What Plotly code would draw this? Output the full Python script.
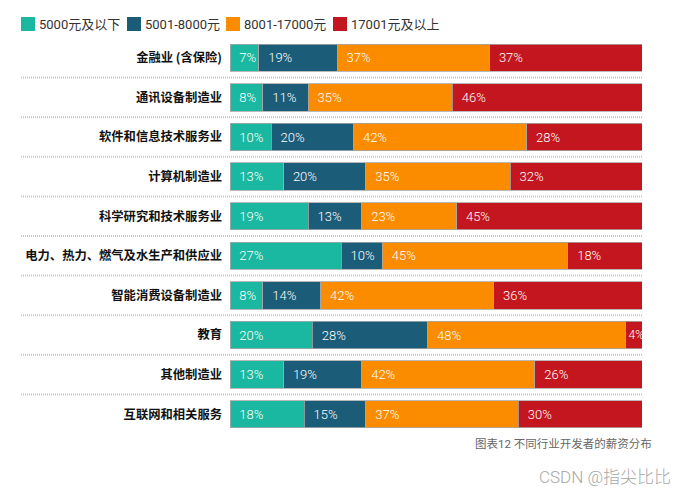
import plotly.graph_objects as go

industries = ["金融业 (含保险)", "通讯设备制造业", "软件和信息技术服务业", "计算机制造业",
              "科学研究和技术服务业", "电力、热力、燃气及水生产和供应业", "智能消费设备制造业",
              "教育", "其他制造业", "互联网和相关服务"]
series_names = ["5000元及以下", "5001-8000元", "8001-17000元", "17001元及以上"]
s1 = [7, 8, 10, 13, 19, 27, 8, 20, 13, 18]
s2 = [19, 11, 20, 20, 13, 10, 14, 28, 19, 15]
s3 = [37, 35, 42, 35, 23, 45, 42, 48, 42, 37]
s4 = [37, 46, 28, 32, 45, 18, 36, 4, 26, 30]
colors = ["#1ab8a0", "#1b5c78", "#fb8c00", "#c4161e"]
caption = "图表12 不同行业开发者的薪资分布"
credit = "CSDN @指尖比比"

W, H = 687, 495
ML, MR, MT, MB = 230, 45, 38, 61
PW, PH = W - ML - MR, H - MT - MB


def px_x(px):
    return (px - ML) / PW


def px_y(py):
    return (H - MB - py) / PH


def label(v):
    return ("\u00a0\u00a0" if v >= 5 else "") + f"{v}%"


fig = go.Figure()
for name, vals, col in zip(series_names, [s1, s2, s3, s4], colors):
    fig.add_trace(go.Bar(
        y=industries, x=vals, name=name, orientation="h",
        marker=dict(color=col, line=dict(color="#a8a8a8", width=0.8)),
        text=[label(v) for v in vals],
        textposition="inside", insidetextanchor="start", textangle=0,
        textfont=dict(color="white", size=[13 if v >= 5 else 12 for v in vals],
                      family="Roboto", weight=300),
        constraintext="none", cliponaxis=False, width=0.69, showlegend=False,
    ))

# dotted separators between rows
for i in range(len(industries) - 1):
    fig.add_shape(type="line", xref="paper", yref="y",
                  x0=px_x(21), x1=1.0, y0=i + 0.5, y1=i + 0.5,
                  line=dict(color="#c8c8c8", width=2, dash="1px,1px"))

# manual legend
legend_sq_x = [21, 127, 226, 333]
for name, col, lx in zip(series_names, colors, legend_sq_x):
    fig.add_shape(type="rect", xref="paper", yref="paper",
                  x0=px_x(lx), x1=px_x(lx + 14), y0=px_y(31), y1=px_y(17),
                  fillcolor=col, line=dict(width=0))
    fig.add_annotation(text=name, xref="paper", yref="paper",
                       x=px_x(lx + 16), y=px_y(24), xanchor="left", yanchor="middle",
                       showarrow=False,
                       font=dict(size=13, color="#333", family="Roboto, Noto Sans CJK SC"))

fig.add_annotation(text=caption, xref="paper", yref="paper", x=px_x(654), y=px_y(444),
                   xanchor="right", yanchor="middle", showarrow=False,
                   font=dict(size=11.5, color="#666", family="Roboto, Noto Sans CJK SC"))
fig.add_annotation(text=credit, xref="paper", yref="paper", x=px_x(673), y=px_y(477),
                   xanchor="right", yanchor="middle", showarrow=False,
                   font=dict(size=17, color="#a8a8a8", family="Roboto, Noto Sans CJK SC",
                             weight=300))

fig.update_layout(
    width=W, height=H,
    margin=dict(l=ML, r=MR, t=MT, b=MB),
    barmode="stack", bargap=0.3,
    plot_bgcolor="white", paper_bgcolor="white",
    showlegend=False,
    xaxis=dict(range=[0, 100], visible=False, fixedrange=True, automargin=False),
    yaxis=dict(showgrid=False, ticks="", ticklen=0, automargin=False, ticklabelstandoff=7,
               tickfont=dict(size=12.3, color="#111", family="Noto Sans CJK SC", weight="bold"),
               range=[9.5, -0.5], autorange=False),
)

fig.write_html("out.html", config={"displayModeBar": False},
               post_script="document.body.style.margin='0';document.body.style.overflow='hidden';")
